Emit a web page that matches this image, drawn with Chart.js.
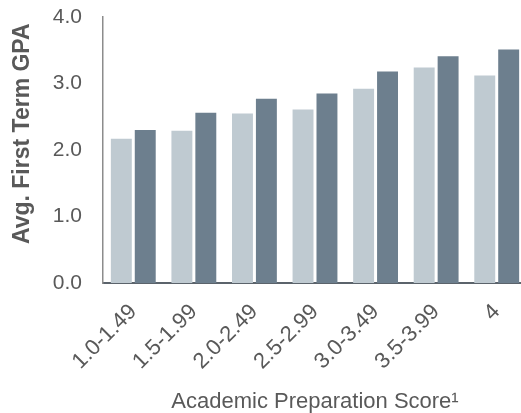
<!DOCTYPE html>
<html lang="en">
<head>
    <meta charset="UTF-8">
    <title>Avg. First Term GPA by Academic Preparation Score</title>
    <script src="https://cdn.jsdelivr.net/npm/chart.js"></script>
    <style>
        html, body { margin: 0; padding: 0; background: #fff; overflow: hidden; }
        .chart-box { position: absolute; left: 0; top: 0; width: 527px; height: 413px; }
    </style>
</head>
<body>
    <div class="chart-box">
        <canvas id="gpaChart"></canvas>
    </div>
    <script>
        // Data
        const categories = ['1.0-1.49', '1.5-1.99', '2.0-2.49', '2.5-2.99', '3.0-3.49', '3.5-3.99', '4'];
        const lightSeries = [2.17, 2.29, 2.55, 2.61, 2.92, 3.24, 3.12];
        const darkSeries = [2.30, 2.56, 2.77, 2.85, 3.18, 3.41, 3.51];
        const yTicks = [0, 1, 2, 3, 4];

        const textColor = '#595959';
        const fontFamily = '"Liberation Sans", Arial, sans-serif';
        const noColor = 'rgba(0,0,0,0)';

        const ctx = document.getElementById('gpaChart').getContext('2d');
        new Chart(ctx, {
            type: 'bar',
            data: {
                labels: categories,
                datasets: [{
                    label: 'Group 1',
                    data: lightSeries,
                    backgroundColor: '#bfcad1',
                    categoryPercentage: 0.79,
                    barPercentage: 0.875
                }, {
                    label: 'Group 2',
                    data: darkSeries,
                    backgroundColor: '#6d7f8e',
                    categoryPercentage: 0.79,
                    barPercentage: 0.875
                }]
            },
            options: {
                responsive: true,
                maintainAspectRatio: false,
                animation: false,
                layout: {
                    padding: { top: 17, right: 0, bottom: -2, left: 0 }
                },
                plugins: {
                    legend: { display: false },
                    tooltip: { enabled: false }
                },
                scales: {
                    x: {
                        // tick marks are invisible, their length only spaces the labels
                        grid: { display: false, drawTicks: true, tickLength: 16, tickColor: noColor },
                        border: { display: true, color: '#5b636b', width: 2 },
                        ticks: {
                            color: textColor,
                            font: { family: fontFamily, size: 22 },
                            maxRotation: 45,
                            minRotation: 45,
                            autoSkip: false,
                            padding: 0
                        },
                        title: {
                            display: true,
                            text: 'Academic Preparation Score¹',
                            color: textColor,
                            font: { family: fontFamily, size: 22 },
                            padding: { top: 0, bottom: 0 }
                        },
                        afterFit: (scale) => { scale.height = 132; }
                    },
                    y: {
                        min: 0,
                        max: 4,
                        grid: { display: false, drawTicks: true, tickLength: 21, tickColor: noColor },
                        border: { display: true, color: '#8c8c8c', width: 1.5 },
                        afterBuildTicks: (scale) => {
                            scale.ticks = yTicks.map(v => ({ value: v }));
                        },
                        ticks: {
                            color: textColor,
                            font: { family: fontFamily, size: 21 },
                            padding: 0,
                            callback: (v) => Number(v).toFixed(1)
                        },
                        title: {
                            display: true,
                            text: 'Avg. First Term GPA ',
                            align: 'end',
                            color: textColor,
                            font: { family: fontFamily, size: 23, weight: 'bold' },
                            padding: { top: 9, bottom: 0 }
                        },
                        afterFit: (scale) => { scale.width = 103; }
                    }
                }
            }
        });
    </script>
</body>
</html>
